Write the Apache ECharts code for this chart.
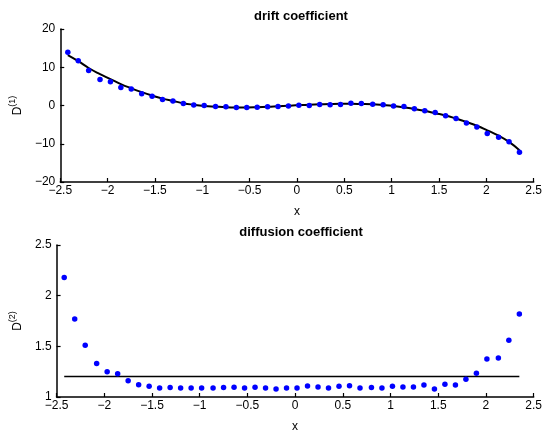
<!DOCTYPE html>
<html>
<head>
<meta charset="utf-8">
<script src="https://cdn.jsdelivr.net/npm/echarts@6/dist/echarts.min.js"></script>
<style>
  html, body { margin: 0; padding: 0; background: #fff; }
  #main { width: 545px; height: 434px; }
</style>
</head>
<body>
<div id="main"></div>
<script>
// sample positions (shared by both panels)
const xs = [-2.42, -2.31, -2.20, -2.08, -1.97, -1.86, -1.75, -1.64, -1.53, -1.42, -1.31,
  -1.20, -1.09, -0.98, -0.86, -0.75, -0.64, -0.53, -0.42, -0.31, -0.20, -0.09,
  0.02, 0.13, 0.24, 0.35, 0.46, 0.57, 0.68, 0.80, 0.91, 1.02, 1.13, 1.24, 1.35,
  1.46, 1.57, 1.68, 1.79, 1.90, 2.01, 2.13, 2.24, 2.35];

// drift coefficient: estimated points and fitted curve
const driftPts = [13.9, 11.7, 9.15, 6.8, 6.2, 4.7, 4.3, 3.1, 2.4, 1.6, 1.2,
  0.5, 0.1, 0.0, -0.26, -0.35, -0.52, -0.52, -0.43, -0.35, -0.26, -0.1,
  0.08, 0.0, 0.26, 0.17, 0.26, 0.6, 0.52, 0.35, 0.17, -0.1, -0.26, -0.87, -1.4,
  -1.83, -2.7, -3.4, -4.6, -5.6, -7.3, -8.3, -9.5, -12.2];
const driftFit = [13.2, 11.6, 9.8, 8.2, 6.9, 5.6, 4.5, 3.5, 2.6, 1.8, 1.2,
  0.6, 0.2, -0.1, -0.3, -0.45, -0.5, -0.5, -0.45, -0.35, -0.2, -0.05,
  0.1, 0.2, 0.3, 0.4, 0.45, 0.45, 0.4, 0.3, 0.1, -0.15, -0.5, -0.9, -1.4,
  -2.0, -2.6, -3.4, -4.3, -5.3, -6.5, -7.9, -9.5, -11.7];

// diffusion coefficient: estimated points and constant fit
const diffPts = [2.18, 1.77, 1.51, 1.33, 1.25, 1.23, 1.16, 1.12, 1.105, 1.09, 1.093,
  1.09, 1.09, 1.09, 1.088, 1.093, 1.095, 1.088, 1.095, 1.088, 1.08, 1.09,
  1.088, 1.108, 1.098, 1.088, 1.105, 1.11, 1.09, 1.093, 1.09, 1.105, 1.098, 1.098, 1.118,
  1.08, 1.127, 1.118, 1.176, 1.235, 1.376, 1.385, 1.56, 1.82];
const diffFitX = [-2.42, 2.35];
const diffFit = [1.203, 1.203];

const xTicks = [-2.5, 2.5, 0.5];
const driftTicks = [-20, 20, 10];
const diffTicks = [1, 2.5, 0.5];

const FONT = 'Liberation Sans, Arial, Helvetica, sans-serif';
const fmt = v => String(+v.toFixed(2)).replace('-', '\u2212');

function pairs(a, b) {
  return a.map((x, i) => [x, b[i]]);
}

function xAxis(idx) {
  return {
    gridIndex: idx, type: 'value',
    min: xTicks[0], max: xTicks[1], interval: xTicks[2],
    name: 'x', nameLocation: 'middle', nameGap: 24,
    nameTextStyle: { color: '#000', fontSize: 12, fontFamily: FONT },
    axisLine: { onZero: false, lineStyle: { color: '#000', width: 1.5 } },
    axisTick: { inside: true, length: 4, lineStyle: { color: '#000', width: 1.2 } },
    axisLabel: { color: '#000', fontSize: 12, fontFamily: FONT, margin: 3, formatter: fmt },
    splitLine: { show: false }
  };
}

function yAxis(idx, t, sup) {
  return {
    gridIndex: idx, type: 'value',
    min: t[0], max: t[1], interval: t[2],
    name: '{d|D}{s|(' + sup + ')}', nameLocation: 'middle', nameGap: 27,
    nameTextStyle: {
      color: '#000', fontFamily: FONT,
      rich: {
        d: { fontSize: 12, fontFamily: FONT, color: '#000', verticalAlign: 'bottom' },
        s: { fontSize: 9, fontFamily: FONT, color: '#000', verticalAlign: 'top', padding: [0, 0, 7, 0] }
      }
    },
    axisLine: { show: true, onZero: false, lineStyle: { color: '#000', width: 1.5 } },
    axisTick: { show: true, inside: true, length: 4, lineStyle: { color: '#000', width: 1.2 } },
    axisLabel: { color: '#000', fontSize: 12, fontFamily: FONT, margin: 5, formatter: fmt },
    splitLine: { show: false }
  };
}

const chart = echarts.init(document.getElementById('main'));

chart.setOption({
  animation: false,
  backgroundColor: '#fff',
  title: [
    { text: 'drift coefficient', left: 296, top: 5, textAlign: 'center',
      textStyle: { fontSize: 13, fontWeight: 'bold', color: '#000', fontFamily: FONT } },
    { text: 'diffusion coefficient', left: 296, top: 221, textAlign: 'center',
      textStyle: { fontSize: 13, fontWeight: 'bold', color: '#000', fontFamily: FONT } }
  ],
  grid: [
    { left: 56, right: 8, top: 29, height: 153 },
    { left: 56, right: 8, top: 245, height: 153 }
  ],
  xAxis: [xAxis(0), xAxis(1)],
  yAxis: [yAxis(0, driftTicks, 1), yAxis(1, diffTicks, 2)],
  series: [
    { type: 'line', xAxisIndex: 0, yAxisIndex: 0, data: pairs(xs, driftFit),
      smooth: true, showSymbol: false, lineStyle: { color: '#000', width: 2 }, z: 2 },
    { type: 'scatter', xAxisIndex: 0, yAxisIndex: 0, data: pairs(xs, driftPts),
      symbolSize: 5.5, itemStyle: { color: '#0000ff', opacity: 1 }, z: 3 },
    { type: 'line', xAxisIndex: 1, yAxisIndex: 1, data: pairs(diffFitX, diffFit),
      showSymbol: false, lineStyle: { color: '#000', width: 1.5 }, z: 2 },
    { type: 'scatter', xAxisIndex: 1, yAxisIndex: 1, data: pairs(xs, diffPts),
      symbolSize: 5.5, itemStyle: { color: '#0000ff', opacity: 1 }, z: 3 }
  ]
});
</script>
</body>
</html>
